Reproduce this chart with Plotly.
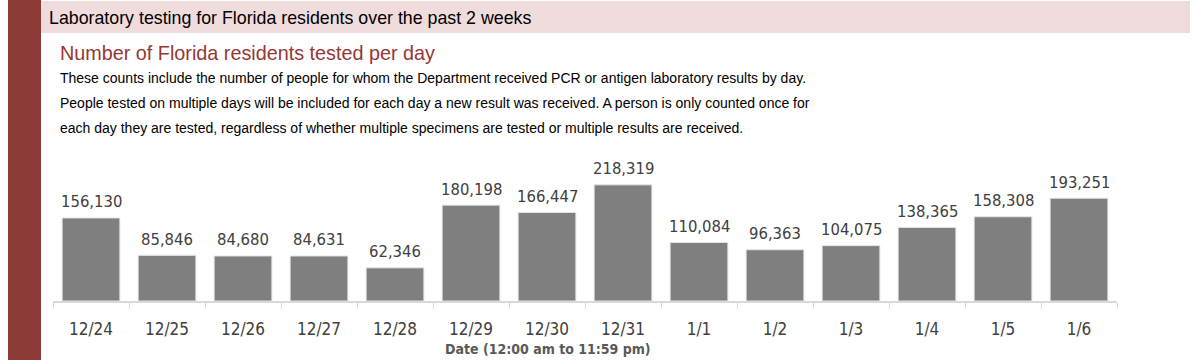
import plotly.graph_objects as go

dates = ["12/24", "12/25", "12/26", "12/27", "12/28", "12/29", "12/30",
         "12/31", "1/1", "1/2", "1/3", "1/4", "1/5", "1/6"]
tested = [156130, 85846, 84680, 84631, 62346, 180198, 166447,
          218319, 110084, 96363, 104075, 138365, 158308, 193251]

W, H = 1200, 360
def px(x): return x / W
def py(y): return 1 - y / H

NUM_FONT = "DejaVu Sans Condensed, Liberation Sans, sans-serif"
BODY_FONT = "Liberation Sans, Arial, sans-serif"

fig = go.Figure()
fig.add_trace(go.Bar(
    x=dates, y=tested,
    marker=dict(color="#7f7f7f", line=dict(color="#e6e6e6", width=1)),
    width=0.76,
    hoverinfo="x+y",
))

shapes = [
    dict(type="rect", xref="paper", yref="paper", x0=px(8), x1=px(41), y0=0, y1=1,
         fillcolor="#8c3a36", line=dict(width=0), layer="below"),
    dict(type="rect", xref="paper", yref="paper", x0=px(41), x1=px(1190), y0=py(33), y1=py(1),
         fillcolor="#f0dcdc", line=dict(width=0), layer="below"),
]

annotations = [
    dict(text="Laboratory testing for Florida residents over the past 2 weeks",
         x=px(47), y=py(18), xref="paper", yref="paper", xanchor="left", yanchor="middle",
         showarrow=False, font=dict(family=BODY_FONT, size=17.8, color="#000000")),
    dict(text="Number of Florida residents tested per day",
         x=px(58), y=py(53), xref="paper", yref="paper", xanchor="left", yanchor="middle",
         showarrow=False, font=dict(family=BODY_FONT, size=19.8, color="#953735")),
    dict(text="These counts include the number of people for whom the Department received PCR or antigen laboratory results by day.",
         x=px(58), y=py(78), xref="paper", yref="paper", xanchor="left", yanchor="middle",
         showarrow=False, font=dict(family=BODY_FONT, size=14, color="#000000")),
    dict(text="People tested on multiple days will be included for each day a new result was received. A person is only counted once for",
         x=px(58), y=py(103), xref="paper", yref="paper", xanchor="left", yanchor="middle",
         showarrow=False, font=dict(family=BODY_FONT, size=14, color="#000000")),
    dict(text="each day they are tested, regardless of whether multiple specimens are tested or multiple results are received.",
         x=px(58), y=py(128), xref="paper", yref="paper", xanchor="left", yanchor="middle",
         showarrow=False, font=dict(family=BODY_FONT, size=14, color="#000000")),
    dict(text="<b>Date (12:00 am to 11:59 pm)</b>",
         x=px(548), y=py(349), xref="paper", yref="paper", xanchor="center", yanchor="middle",
         showarrow=False, font=dict(family=NUM_FONT, size=14, color="#595959")),
]

for d, v in zip(dates, tested):
    annotations.append(dict(
        x=d, y=v, xref="x", yref="y", text=f"{v:,}",
        showarrow=False, yanchor="middle", yshift=16,
        font=dict(family=NUM_FONT, size=16.5, color="#404040"),
    ))

fig.update_layout(
    width=W, height=H,
    margin=dict(l=0, r=0, t=0, b=0),
    paper_bgcolor="white", plot_bgcolor="white",
    showlegend=False,
    bargap=0.24,
    shapes=shapes,
    annotations=annotations,
    xaxis=dict(
        domain=[px(53), px(1117)],
        type="category",
        showline=True, linecolor="#d9d9d9", linewidth=1.5,
        ticks="outside", tickson="boundaries", ticklen=6, tickcolor="#d9d9d9",
        tickfont=dict(family=NUM_FONT, size=17, color="#404040"),
        ticklabelstandoff=12,
        showgrid=False, zeroline=False,
    ),
    yaxis=dict(
        domain=[py(301), py(168)],
        range=[0, 250000],
        visible=False,
        showgrid=False, zeroline=False,
    ),
)

fig.write_html("out.html",
               config={"displayModeBar": False},
               post_script="document.body.style.margin='0';document.body.style.overflow='hidden';")
